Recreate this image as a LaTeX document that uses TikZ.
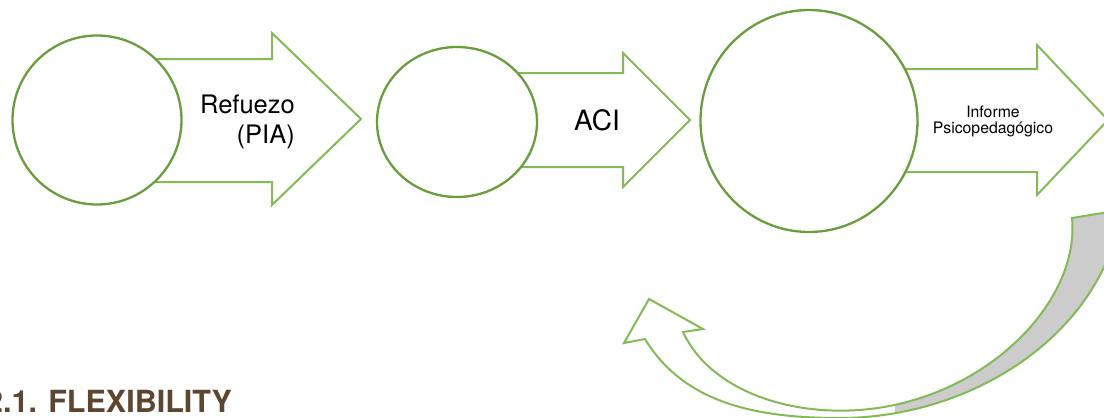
\documentclass[tikz,border=0pt]{standalone}
\usepackage{fontspec}
\setmainfont{TeX Gyre Heros}
\usetikzlibrary{shapes.geometric}
\definecolor{ringgreen}{RGB}{104,158,62}
\definecolor{arrowgreen}{RGB}{130,186,86}
\definecolor{backgray}{RGB}{204,204,204}
\definecolor{headbrown}{RGB}{92,70,50}
\begin{document}
\begin{tikzpicture}[x=1pt,y=-1pt,
  ring/.style={ellipse,draw=ringgreen,line width=2.3pt,fill=white,inner sep=0pt},
  blockarrow/.style={draw=arrowgreen,line width=2pt,fill=white,line join=miter},
  ribbon/.style={draw=arrowgreen,line width=2pt,line join=miter},
  arrowtext/.style={inner sep=0pt,text=black}]
\useasboundingbox (0,0) rectangle (1104,418);
\clip (0,0) rectangle (1104,418);
% block arrows, tails hidden under the rings
\draw[blockarrow] (140,59) -- (272,59) -- (272,33) -- (361,119)
  -- (272,205) -- (272,182) -- (140,182) -- cycle;
\draw[blockarrow] (440,73) -- (623,73) -- (623,53) -- (690,120)
  -- (623,187) -- (623,167) -- (440,167) -- cycle;
\draw[blockarrow] (800,69) -- (1037,69) -- (1037,45) -- (1108,120)
  -- (1037,195) -- (1037,172) -- (800,172) -- cycle;
% rings
\node[ring,minimum width=169pt,minimum height=169pt] (ring1) at (97,120) {};
\node[ring,minimum width=160pt,minimum height=150pt] (ring2) at (457,122) {};
\node[ring,minimum width=217pt,minimum height=222pt] (ring3) at (809,121) {};
% arrow texts
\node[arrowtext,align=right,anchor=east,font=\fontsize{25.5}{30}\selectfont]
  (pia) at (295,122) {Refuezo\\(PIA)};
\node[arrowtext,font=\fontsize{28}{32}\selectfont] (aci) at (597,120) {ACI};
\node[arrowtext,align=center,font=\fontsize{15.8}{16}\selectfont]
  (informe) at (993,121) {Informe\\Psicopedagógico};
% curved return arrow, back face first
\begin{scope}
\clip (895,0) rectangle (1104,418);
\fill[backgray] (1072,218) .. controls (1080,300) and (990,395) .. (870,409)
  -- (840,418) .. controls (950,418) and (1060,360) .. (1104,267)
  .. controls (1115,244) and (1120,225) .. (1121,210) -- cycle;
\end{scope}
\draw[ribbon] (683,332) -- (703,329) -- (649,299) -- (624,343) -- (645,339)
  .. controls (685,405) and (760,418) .. (840,418)
  .. controls (950,418) and (1060,360) .. (1104,267)
  .. controls (1115,244) and (1120,225) .. (1121,210)
  -- (1072,218)
  .. controls (1080,300) and (990,395) .. (870,409)
  .. controls (790,418) and (710,390) .. (683,332) -- cycle;
% section heading
\node[inner sep=0pt,anchor=base west,text=headbrown,
  font=\fontsize{30.5}{36}\bfseries\selectfont] (heading) at (-14,412)
  {2.1. FLEXIBILITY};
\end{tikzpicture}
\end{document}
